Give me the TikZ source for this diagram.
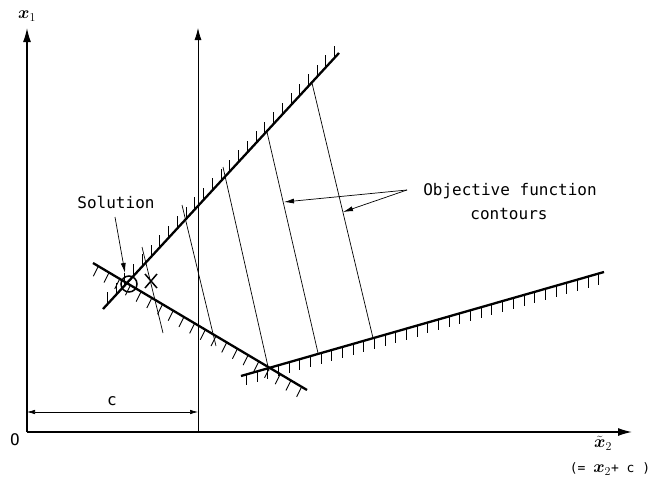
\documentclass[tikz,border=0pt]{standalone}
\usepackage{amsmath}
\usepackage{fontspec}
\newfontfamily\lett{DejaVu Sans Mono}
\usetikzlibrary{calc,arrows.meta}
\tikzset{
  axis/.style={line width=1.4pt,-{Latex[length=14pt,width=8pt]}},
  thinaxis/.style={line width=0.8pt,-{Latex[length=12pt,width=7pt]}},
  constraint/.style={line width=2.3pt},
  hatch/.style={line width=0.8pt},
  contour/.style={line width=0.7pt},
  leader/.style={line width=0.7pt,-{Latex[length=10pt,width=5pt]}},
  dim/.style={line width=0.7pt,{Latex[length=8pt,width=4.5pt]}-{Latex[length=8pt,width=4.5pt]}},
  lbl/.style={font=\lett\fontsize{16}{18}\selectfont,inner sep=0pt},
  mlbl/.style={font=\fontsize{17}{19}\selectfont,inner sep=0pt}
}
\begin{document}
\begin{tikzpicture}[x=1pt,y=-1pt]
\useasboundingbox (0,0) rectangle (649,482);
% axes
\coordinate (O) at (27,432);
\coordinate (Ytip) at (27,28);
\coordinate (Xtip) at (632,432);
\coordinate (V0) at (198,432);
\coordinate (Vtip) at (198,28);
\draw[axis] (O) -- (Ytip);
\draw[axis] (O) -- (Xtip);
\draw[thinaxis] (V0) -- (Vtip);
\coordinate (D1) at (27,412);
\coordinate (D2) at (198,412);
\draw[dim] (D1) -- (D2);
\node[lbl] (clbl) at (112,401) {c};
\node[lbl] (olbl) at (15,440) {O};
\node[mlbl] (x1lbl) at (27,16) {$\boldsymbol{x}_1$};
\node[mlbl] (x2lbl) at (603,443) {$\tilde{\boldsymbol{x}}_2$};
\node[lbl,font=\lett\fontsize{13}{15}\selectfont] (x2def) at (610,469) {(= {\fontsize{17}{19}\selectfont$\boldsymbol{x}_2$}+ c )};
% constraint lines
\coordinate (U1) at (103,309);
\coordinate (U2) at (339,53);
\coordinate (L1) at (93,263);
\coordinate (L2) at (307,390);
\coordinate (R1) at (241,376);
\coordinate (R2) at (604,272);
\foreach \i in {0,...,26} {
  \draw[hatch] ($(U1)!{(\i+0.5)/27}!(U2)$) -- ++(0,-12);
}
\foreach \i in {0,...,19} {
  \draw[hatch] ($(L1)!{(\i+0.5)/20}!(L2)$) -- ++(-5,10);
}
\foreach \i in {0,...,33} {
  \draw[hatch] ($(R1)!{(\i+0.5)/34}!(R2)$) -- ++(0,11);
}
\draw[constraint] (U1) -- (U2);
\draw[constraint] (L1) -- (L2);
\draw[constraint] (R1) -- (R2);
% contours
\coordinate (C1a) at (142,247); \coordinate (C1b) at (163,333);
\coordinate (C2a) at (182,205); \coordinate (C2b) at (216,346);
\coordinate (C3a) at (223,167); \coordinate (C3b) at (269,371);
\coordinate (C4a) at (267,132); \coordinate (C4b) at (318,353);
\coordinate (C5a) at (312,83);  \coordinate (C5b) at (373,338);
\draw[contour] (C1a) -- (C1b);
\draw[contour] (C2a) -- (C2b);
\draw[contour] (C3a) -- (C3b);
\draw[contour] (C4a) -- (C4b);
\draw[contour] (C5a) -- (C5b);
% solution
\node[draw,circle,line width=1.5pt,minimum size=16pt,inner sep=0pt] (sol) at (129,284) {};
\coordinate (Xm) at (151,281);
\draw[line width=1.5pt] ($(Xm)+(-6,-7)$) -- ($(Xm)+(6,7)$) ($(Xm)+(6,-7)$) -- ($(Xm)+(-6,7)$);
\node[lbl] (sollbl) at (116,202) {Solution};
\coordinate (solarrow) at (125,273);
\coordinate (solstart) at (115,217);
\draw[leader] (solstart) -- (solarrow);
% objective label
\node[lbl] (obj1) at (510,191) {Objective function};
\node[lbl] (obj2) at (509,214) {contours};
\coordinate (lead) at (407,190);
\coordinate (t4) at (284,202);
\coordinate (t5) at (343,212);
\draw[leader] (lead) -- (t4);
\draw[leader] (lead) -- (t5);
\end{tikzpicture}
\end{document}
